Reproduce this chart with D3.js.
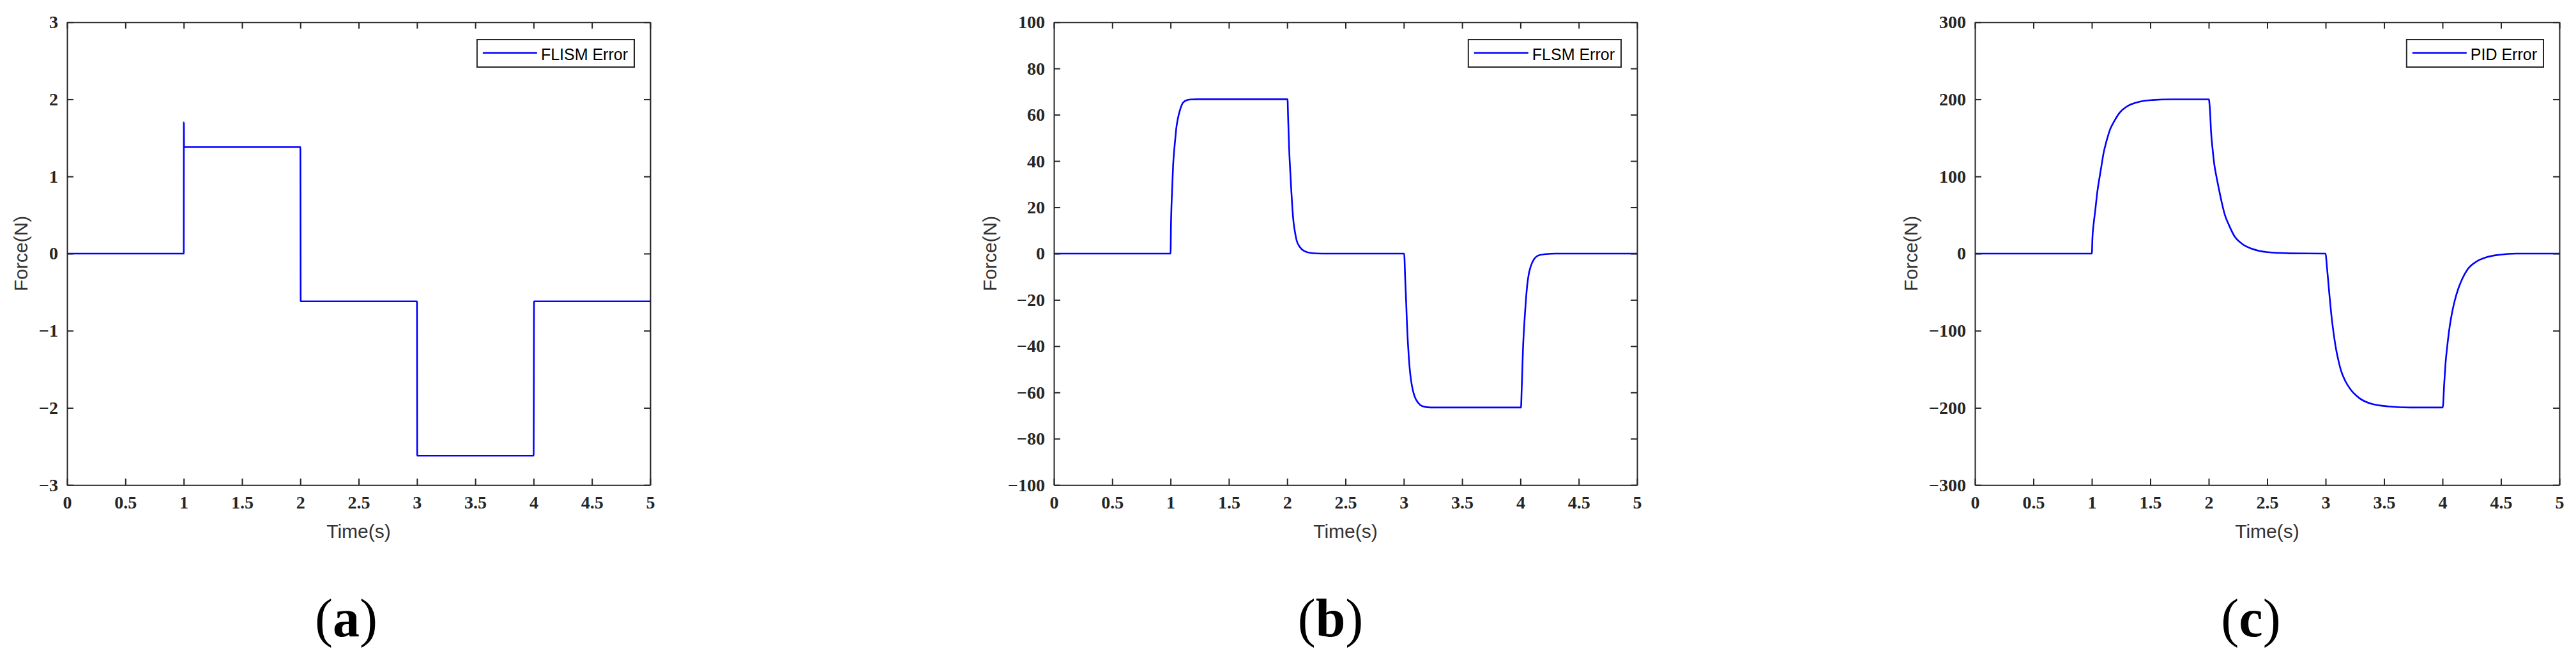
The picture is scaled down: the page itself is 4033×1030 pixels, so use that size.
<!DOCTYPE html>
<html>
<head>
<meta charset="utf-8">
<style>
  body { margin: 0; background: #fff; }
  svg { display: block; }
  .tick text { font-family: "Liberation Serif", serif; font-weight: bold; font-size: 28px; fill: #262626; }
  .domain, .tick line { stroke: #262626; stroke-width: 2px; }
  .axlabel { font-family: "Liberation Sans", Arial, sans-serif; font-size: 30px; fill: #333; }
  .legend text { font-family: "Liberation Sans", Arial, sans-serif; font-size: 25px; fill: #000; }
  .panel-tag { font-family: "Liberation Serif", serif; font-size: 84px; fill: #000; }
</style>
<script src="https://d3js.org/d3.v7.min.js"></script>
</head>
<body>
<svg id="fig" width="4033" height="1030"></svg>
<script>
// time axis, shared by all three panels
const timeTicks = [0, 0.5, 1, 1.5, 2, 2.5, 3, 3.5, 4, 4.5, 5];

// (a) FLISM error
const timeA  = [0, 1, 1.001, 1.003, 2, 2.003, 3, 3.002, 4, 4.004, 5];
const forceA = [0, 0, 1.70, 1.38, 1.38, -0.62, -0.62, -2.62, -2.62, -0.62, -0.62];
const ticksA = [-3, -2, -1, 0, 1, 2, 3];

// (b) FLSM error
const timeB = [0, 1, 1.004, 1.008, 1.013, 1.022, 1.031, 1.041, 1.05, 1.062, 1.077, 1.095, 1.123, 1.168, 1.23,
  2.003, 2.008, 2.017, 2.026, 2.036, 2.045, 2.054, 2.067, 2.081, 2.108, 2.145, 2.21, 2.3,
  3.003, 3.012, 3.021, 3.027, 3.034, 3.043, 3.052, 3.063, 3.076, 3.094, 3.122, 3.158, 3.23,
  4.005, 4.01, 4.016, 4.022, 4.029, 4.038, 4.047, 4.058, 4.071, 4.089, 4.117, 4.154, 4.22, 4.3, 5];
const forceB = [0, 0, 13, 20.4, 26.8, 37.9, 44.3, 49.8, 54.4, 58.1, 61.3, 64.1, 65.9, 66.6, 66.7,
  66.7, 59.0, 45.2, 36.0, 26.8, 19.4, 13.9, 9.3, 5.7, 2.9, 1.1, 0.2, 0,
  0, -10.9, -21.9, -30.2, -37.5, -44.9, -50.4, -55.0, -58.7, -61.9, -64.4, -65.9, -66.5,
  -66.5, -59.6, -50.4, -41.2, -33.9, -26.5, -20.1, -13.7, -9.0, -5.4, -2.4, -0.8, -0.2, 0, 0];
const ticksB = [-100, -80, -60, -40, -20, 0, 20, 40, 60, 80, 100];

// (c) PID error
const timeC = [0, 1, 1.005, 1.018, 1.031, 1.045, 1.064, 1.082, 1.1, 1.127, 1.155, 1.191, 1.237, 1.301, 1.392, 1.519, 1.683,
  2.002, 2.005, 2.011, 2.02, 2.033, 2.047, 2.066, 2.084, 2.111, 2.138, 2.175, 2.22, 2.284, 2.375, 2.503, 2.7,
  3, 3.009, 3.022, 3.035, 3.049, 3.067, 3.086, 3.108, 3.131, 3.168, 3.213, 3.286, 3.395, 3.541, 3.72,
  4.002, 4.015, 4.027, 4.042, 4.06, 4.078, 4.106, 4.133, 4.169, 4.215, 4.288, 4.379, 4.488, 4.63, 5];
const forceC = [0, 0, 19.8, 41.8, 58.3, 77.7, 97, 113.5, 130, 146.6, 160.5, 171.5, 182.5, 190.8, 196.3, 199, 200,
  200, 196.3, 185.3, 157.7, 135.6, 116.3, 99.7, 86, 66.6, 50.1, 36.3, 22.5, 12.8, 5.9, 1.8, 0.3,
  0, -13.3, -35.4, -57.5, -79.5, -101.6, -120.9, -137.5, -151.3, -165.1, -176.1, -187.1, -194.9, -198.2, -199.5,
  -199.5, -167.8, -140.3, -118.2, -96.1, -79.5, -60.3, -46.4, -32.7, -20.3, -10.6, -4.6, -1.5, 0, 0];
const ticksC = [-300, -200, -100, 0, 100, 200, 300];

const panels = [
  { left: 105,  width: 913, t: timeA, f: forceA, yTicks: ticksA, legend: 'FLISM Error', tag: 'a', tagX: 542 },
  { left: 1650, width: 913, t: timeB, f: forceB, yTicks: ticksB, legend: 'FLSM Error',  tag: 'b', tagX: 2083 },
  { left: 3092, width: 915, t: timeC, f: forceC, yTicks: ticksC, legend: 'PID Error',   tag: 'c', tagX: 3524 }
];

const plotTop = 34.7, plotH = 724.5;
const svg = d3.select('#fig');
svg.append('rect').attr('width', 4033).attr('height', 1030).attr('fill', '#fff');

panels.forEach(p => {
  const w = p.width;
  const x = d3.scaleLinear().domain([0, 5]).range([0, w]);
  const y = d3.scaleLinear().domain(d3.extent(p.yTicks)).range([plotH, 0]);
  const g = svg.append('g').attr('transform', `translate(${p.left},${plotTop})`);

  // the curve
  const pts = p.t.map((t, i) => [t, p.f[i]]);
  g.append('path')
    .datum(pts)
    .attr('fill', 'none')
    .attr('stroke', '#0000ff')
    .attr('stroke-width', 2.6)
    .attr('d', d3.line().x(d => x(d[0])).y(d => y(d[1])).curve(d3.curveMonotoneX));

  // box with inward ticks on all sides
  const xa = g.append('g').attr('transform', `translate(0,${plotH})`)
    .call(d3.axisBottom(x).tickValues(timeTicks).tickSizeInner(-10).tickSizeOuter(0).tickPadding(17).tickFormat(d3.format('')));
  g.append('g')
    .call(d3.axisTop(x).tickValues(timeTicks).tickSizeInner(-10).tickSizeOuter(0).tickFormat(''));
  const ya = g.append('g')
    .call(d3.axisLeft(y).tickValues(p.yTicks).tickSizeInner(-10).tickSizeOuter(0).tickPadding(14).tickFormat(d3.format('')));
  g.append('g').attr('transform', `translate(${w},0)`)
    .call(d3.axisRight(y).tickValues(p.yTicks).tickSizeInner(-10).tickSizeOuter(0).tickFormat(''));
  g.selectAll('g').attr('font-family', null).attr('font-size', null);
  xa.selectAll('.tick text').attr('dy', '0.71em');

  // axis titles
  g.append('text').attr('class', 'axlabel')
    .attr('x', w / 2).attr('y', 842 - plotTop)
    .attr('text-anchor', 'middle')
    .text('Time(s)');
  const yb = ya.node().getBBox();
  g.append('text').attr('class', 'axlabel')
    .attr('transform', `translate(${yb.x - 18},${plotH / 2}) rotate(-90)`)
    .attr('text-anchor', 'middle')
    .text('Force(N)');

  // legend
  const lg = g.append('g').attr('class', 'legend');
  const lt = lg.append('text').attr('y', 94.5 - plotTop).text(p.legend);
  const tw = lt.node().getComputedTextLength();
  const bw = 9 + 85 + 6 + tw + 10;
  const bx = w - 25 - bw;
  lg.insert('rect', 'text')
    .attr('x', bx).attr('y', 62 - plotTop).attr('width', bw).attr('height', 43)
    .attr('fill', '#fff').attr('stroke', '#262626').attr('stroke-width', 2);
  lg.append('line')
    .attr('x1', bx + 9).attr('x2', bx + 94)
    .attr('y1', 82.7 - plotTop).attr('y2', 82.7 - plotTop)
    .attr('stroke', '#0000ff').attr('stroke-width', 2.6);
  lt.attr('x', bx + 100);

  // panel tag
  const tag = svg.append('text').attr('class', 'panel-tag')
    .attr('x', p.tagX).attr('y', 996).attr('text-anchor', 'middle');
  tag.append('tspan').text('(');
  tag.append('tspan').attr('font-weight', 'bold').text(p.tag);
  tag.append('tspan').text(')');
});
</script>
</body>
</html>
